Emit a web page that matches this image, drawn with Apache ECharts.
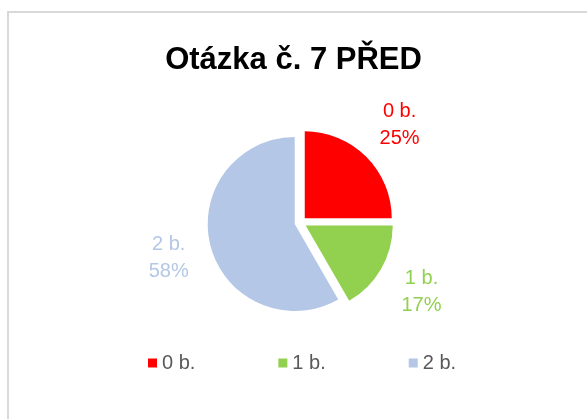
<!DOCTYPE html>
<html>
<head>
<meta charset="utf-8">
<script src="https://cdn.jsdelivr.net/npm/echarts@6/dist/echarts.min.js"></script>
<style>
html, body { margin: 0; padding: 0; background: #fff; }
#chart { width: 587px; height: 419px; }
</style>
</head>
<body>
<div id="chart"></div>
<script>
// data
var categories = ['0 b.', '1 b.', '2 b.'];
var counts = [3, 2, 7];
var colors = ['#FF0000', '#92D050', '#B4C7E7'];

var pieData = categories.map(function (name, i) {
  return { name: name, value: counts[i], selected: true, itemStyle: { color: colors[i] } };
});
var labelData = categories.map(function (name, i) {
  return { name: name, value: counts[i], label: { color: colors[i] } };
});

var fontFam = '"Liberation Sans", Arial, sans-serif';
var chart = echarts.init(document.getElementById('chart'));
chart.setOption({
  animation: false,
  graphic: [{
    type: 'rect',
    z: -10,
    shape: { x: 8, y: 12, width: 640, height: 460 },
    style: { fill: 'none', stroke: '#d9d9d9', lineWidth: 2 }
  }],
  title: {
    text: 'Otázka č. 7 PŘED',
    left: 'center',
    top: 45,
    padding: 0,
    textStyle: { fontFamily: fontFam, fontSize: 31, fontWeight: 'bold', color: '#000' }
  },
  legend: {
    data: categories,
    left: 143,
    top: 348,
    icon: 'rect',
    itemWidth: 9,
    itemHeight: 9,
    itemGap: 83,
    textStyle: { fontFamily: fontFam, fontSize: 20, color: '#595959' }
  },
  series: [{
    name: 'pie',
    type: 'pie',
    center: [300.5, 222.5],
    radius: 87,
    startAngle: 90,
    selectedMode: 'multiple',
    selectedOffset: 6,
    label: { show: false },
    labelLine: { show: false },
    emphasis: { disabled: true },
    data: pieData
  }, {
    name: 'labels',
    type: 'pie',
    silent: true,
    center: [302, 222.5],
    radius: [0, 270],
    startAngle: 90,
    percentPrecision: 0,
    itemStyle: { color: 'rgba(0,0,0,0)' },
    label: {
      show: true,
      position: 'inside',
      formatter: '{b}\n{d}%',
      fontFamily: fontFam,
      fontSize: 20,
      lineHeight: 27
    },
    labelLine: { show: false },
    emphasis: { disabled: true },
    data: labelData
  }]
});
</script>
</body>
</html>
